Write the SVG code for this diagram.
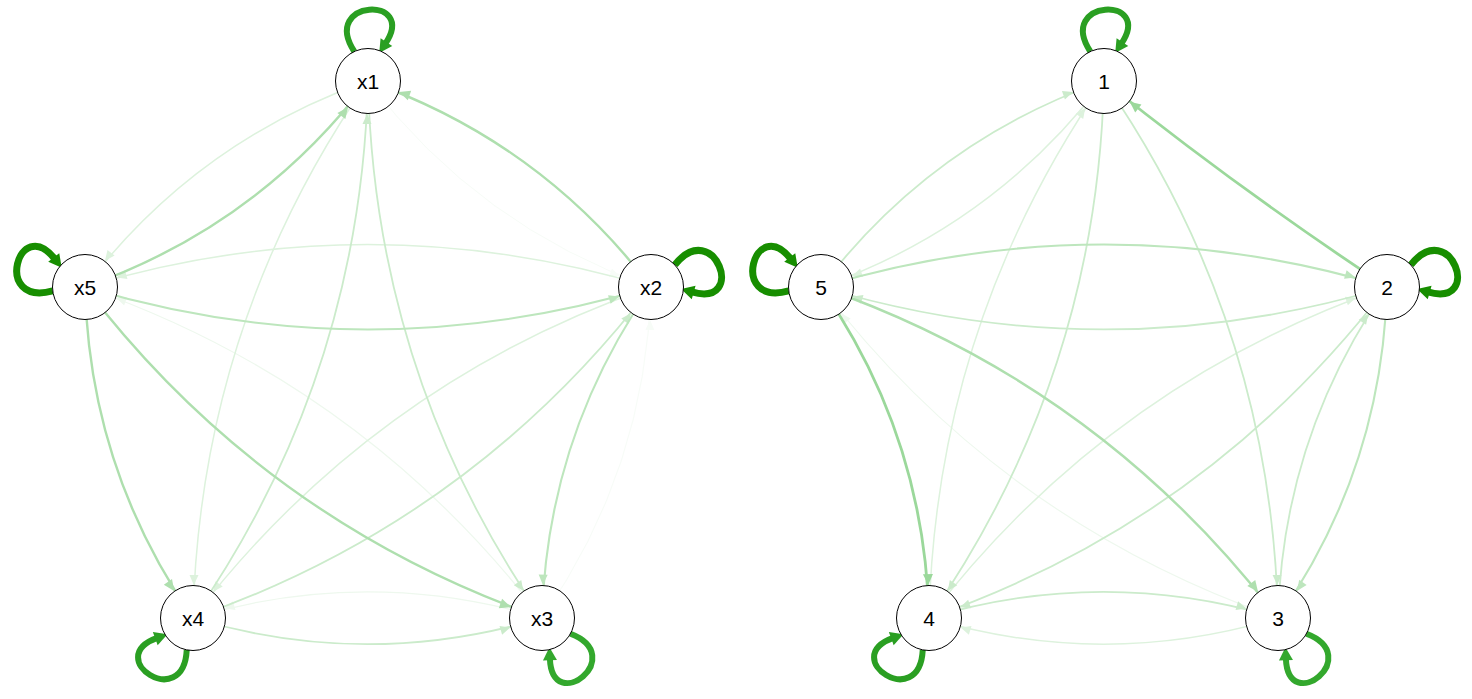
<svg xmlns="http://www.w3.org/2000/svg" width="1472" height="699" viewBox="0 0 1472 699">
<style>
.e{fill:none}
.s1{stroke:#9bd89b;stroke-width:2.8;marker-end:url(#m1)}
.s2{stroke:#aedfae;stroke-width:2.4;marker-end:url(#m2)}
.s3{stroke:#bde6bd;stroke-width:2.1;marker-end:url(#m3)}
.s4{stroke:#cbebcb;stroke-width:1.8;marker-end:url(#m4)}
.s5{stroke:#ddf2dd;stroke-width:1.5;marker-end:url(#m5)}
.s6{stroke:#eef8ee;stroke-width:1.2;marker-end:url(#m6)}
.s7{stroke:#f7fcf7;stroke-width:1;marker-end:url(#m7)}
.loop{fill:none}
.l1{stroke:#178e00;stroke-width:7;marker-end:url(#L1)}
.l2{stroke:#2a9f22;stroke-width:6;marker-end:url(#L2)}
.l3{stroke:#33a82d;stroke-width:6;marker-end:url(#L3)}
.node circle{fill:#fff;stroke:#000;stroke-width:1}
.node text{font-family:"Liberation Sans",Arial,sans-serif;font-size:21px;text-anchor:middle;fill:#000}
</style>
<defs>
<marker id="m1" markerUnits="userSpaceOnUse" markerWidth="1" markerHeight="1" orient="auto" overflow="visible"><path d="M-33,0 L-44,-5 L-44,5 Z" fill="#9bd89b"/></marker>
<marker id="m2" markerUnits="userSpaceOnUse" markerWidth="1" markerHeight="1" orient="auto" overflow="visible"><path d="M-33,0 L-44,-5 L-44,5 Z" fill="#aedfae"/></marker>
<marker id="m3" markerUnits="userSpaceOnUse" markerWidth="1" markerHeight="1" orient="auto" overflow="visible"><path d="M-33,0 L-43.5,-4.5 L-43.5,4.5 Z" fill="#bde6bd"/></marker>
<marker id="m4" markerUnits="userSpaceOnUse" markerWidth="1" markerHeight="1" orient="auto" overflow="visible"><path d="M-33,0 L-43,-4.5 L-43,4.5 Z" fill="#cbebcb"/></marker>
<marker id="m5" markerUnits="userSpaceOnUse" markerWidth="1" markerHeight="1" orient="auto" overflow="visible"><path d="M-33,0 L-43,-4.5 L-43,4.5 Z" fill="#ddf2dd"/></marker>
<marker id="m6" markerUnits="userSpaceOnUse" markerWidth="1" markerHeight="1" orient="auto" overflow="visible"><path d="M-33,0 L-43,-4.5 L-43,4.5 Z" fill="#eef8ee"/></marker>
<marker id="m7" markerUnits="userSpaceOnUse" markerWidth="1" markerHeight="1" orient="auto" overflow="visible"><path d="M-33,0 L-43,-4.5 L-43,4.5 Z" fill="#f7fcf7"/></marker>
<marker id="L1" markerUnits="userSpaceOnUse" markerWidth="1" markerHeight="1" orient="auto" overflow="visible"><path d="M-2,-7 L11,0 L-2,7 Z" fill="#178e00"/></marker>
<marker id="L2" markerUnits="userSpaceOnUse" markerWidth="1" markerHeight="1" orient="auto" overflow="visible"><path d="M-2,-7 L11,0 L-2,7 Z" fill="#2a9f22"/></marker>
<marker id="L3" markerUnits="userSpaceOnUse" markerWidth="1" markerHeight="1" orient="auto" overflow="visible"><path d="M-2,-7 L11,0 L-2,7 Z" fill="#33a82d"/></marker>
<path id="lp" d="M29.5,-13.7 C82,-48 86,50 37.2,17.3"/>
</defs>
<rect width="1472" height="699" fill="#fff"/>
<g id="connectors">
<!-- left graph -->
<path class="e s7" d="M368,81 Q478.6,226.5 651,287"/>
<path class="e s5" d="M368,81 Q195.6,141.6 85,287"/>
<path class="e s7" d="M542,618 Q646.2,468.9 651,287"/>
<path class="e s6" d="M542,618 Q363.2,384 85,287"/>
<path class="e s6" d="M542,618 Q367.5,565.7 193,618"/>
<path class="e s5" d="M368,81 Q200,323.3 193,618"/>
<path class="e s5" d="M651,287 Q372.4,383.8 193,618"/>
<path class="e s5" d="M651,287 Q368,202.1 85,287"/>
<path class="e s4" d="M368,81 Q374.5,375.6 542,618"/>
<path class="e s4" d="M193,618 Q361,375.8 368,81"/>
<path class="e s4" d="M193,618 Q471.7,521.2 651,287"/>
<path class="e s4" d="M193,618 Q367.5,670.4 542,618"/>
<path class="e s3" d="M651,287 Q546.9,436.2 542,618"/>
<path class="e s3" d="M85,287 Q368,371.9 651,287"/>
<path class="e s2" d="M651,287 Q540.4,141.6 368,81"/>
<path class="e s2" d="M85,287 Q257.4,226.5 368,81"/>
<path class="e s2" d="M85,287 Q263.9,521.1 542,618"/>
<path class="e s2" d="M85,287 Q89.4,468.7 193,618"/>
<!-- right graph -->
<path class="e s6" d="M1278,618 Q999.9,521.1 821,287"/>
<path class="e s5" d="M929,618 Q936,323.3 1104,81"/>
<path class="e s5" d="M1104,81 Q993.4,226.5 821,287"/>
<path class="e s5" d="M929,618 Q1108.4,383.8 1387,287"/>
<path class="e s5" d="M1278,618 Q1103.5,670.4 929,618"/>
<path class="e s4" d="M1104,81 Q1271.6,323.4 1278,618"/>
<path class="e s4" d="M1104,81 Q1097,375.8 929,618"/>
<path class="e s4" d="M821,287 Q931.6,141.6 1104,81"/>
<path class="e s4" d="M1278,618 Q1282.9,436.2 1387,287"/>
<path class="e s4" d="M1387,287 Q1207.7,521.2 929,618"/>
<path class="e s4" d="M1387,287 Q1104,371.9 821,287"/>
<path class="e s4" d="M929,618 Q1103.5,565.7 1278,618"/>
<path class="e s3" d="M1387,287 Q1382.2,468.9 1278,618"/>
<path class="e s3" d="M821,287 Q1104,202.1 1387,287"/>
<path class="e s2" d="M821,287 Q1099.2,384 1278,618"/>
<path class="e s1" d="M1387,287 Q1240,190 1104,81"/>
<path class="e s1" d="M821,287 Q924.7,436.3 929,618"/>
<!-- self loops -->
<use href="#lp" class="loop l2" transform="translate(368,81) rotate(-90)"/>
<use href="#lp" class="loop l1" transform="translate(651,287) rotate(-18)"/>
<use href="#lp" class="loop l3" transform="translate(542,618) rotate(54)"/>
<use href="#lp" class="loop l2" transform="translate(193,618) rotate(126)"/>
<use href="#lp" class="loop l1" transform="translate(85,287) rotate(198)"/>
<use href="#lp" class="loop l2" transform="translate(1104,81) rotate(-90)"/>
<use href="#lp" class="loop l1" transform="translate(1387,287) rotate(-18)"/>
<use href="#lp" class="loop l3" transform="translate(1278,618) rotate(54)"/>
<use href="#lp" class="loop l2" transform="translate(929,618) rotate(126)"/>
<use href="#lp" class="loop l1" transform="translate(821,287) rotate(198)"/>
</g>
<g id="node-x1" class="node"><circle cx="368" cy="81" r="32.5"/><text x="368" y="88.5">x1</text></g>
<g id="node-x2" class="node"><circle cx="651" cy="287" r="32.5"/><text x="651" y="294.5">x2</text></g>
<g id="node-x3" class="node"><circle cx="542" cy="618" r="32.5"/><text x="542" y="625.5">x3</text></g>
<g id="node-x4" class="node"><circle cx="193" cy="618" r="32.5"/><text x="193" y="625.5">x4</text></g>
<g id="node-x5" class="node"><circle cx="85" cy="287" r="32.5"/><text x="85" y="294.5">x5</text></g>
<g id="node-1" class="node"><circle cx="1104" cy="81" r="32.5"/><text x="1104" y="88.5">1</text></g>
<g id="node-2" class="node"><circle cx="1387" cy="287" r="32.5"/><text x="1387" y="294.5">2</text></g>
<g id="node-3" class="node"><circle cx="1278" cy="618" r="32.5"/><text x="1278" y="625.5">3</text></g>
<g id="node-4" class="node"><circle cx="929" cy="618" r="32.5"/><text x="929" y="625.5">4</text></g>
<g id="node-5" class="node"><circle cx="821" cy="287" r="32.5"/><text x="821" y="294.5">5</text></g>
</svg>
